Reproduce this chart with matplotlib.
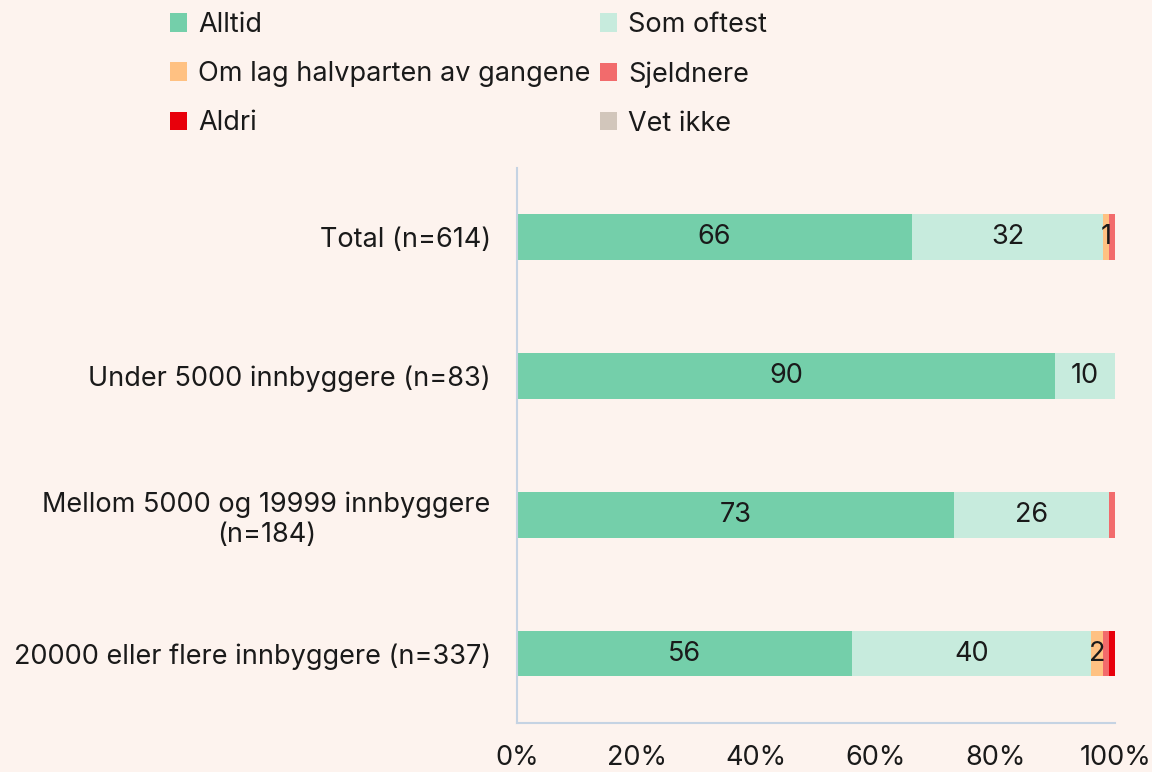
import matplotlib
matplotlib.use("Agg")
import matplotlib.pyplot as plt
from matplotlib.patches import Patch
import numpy as np

plt.rcParams["font.family"] = ["Inter", "DejaVu Sans"]

categories = [
    "Total (n=614)",
    "Under 5000 innbyggere (n=83)",
    "Mellom 5000 og 19999 innbyggere\n(n=184)",
    "20000 eller flere innbyggere (n=337)",
]
series = ["Alltid", "Som oftest", "Om lag halvparten av gangene",
          "Sjeldnere", "Aldri", "Vet ikke"]
alltid = [66, 90, 73, 56]
som_oftest = [32, 10, 26, 40]
om_lag = [1, 0, 0, 2]
sjeldnere = [1, 0, 1, 1]
aldri = [0, 0, 0, 1]
vet_ikke = [0, 0, 0, 0]
colors = ["#74CFAA", "#C7EBDD", "#FFC182", "#F26B6C", "#E8000B", "#D2C6BB"]
labelled = [True, True, True, False, False, False]

BG = "#FDF3EE"
FS = 19.5
fig = plt.figure(figsize=(11.52, 7.72), dpi=100, facecolor=BG)
ax = fig.add_axes([0.4488, 0.0635, 0.5192, 0.7189], facecolor=BG)

values = [alltid, som_oftest, om_lag, sjeldnere, aldri, vet_ikke]
y = np.arange(len(categories))
left = np.zeros(len(categories))
for name, vals, col, lab in zip(series, values, colors, labelled):
    vals = np.array(vals, dtype=float)
    ax.barh(y, vals, left=left, height=0.33, color=col, label=name)
    if lab:
        for yi, (l, v) in enumerate(zip(left, vals)):
            if v > 0:
                ax.text(l + v / 2, yi, f"{v:.0f}", ha="center", va="center",
                        fontsize=FS, color="#1a1a1a")
    left += vals

ax.set_xlim(0, 100)
ax.set_ylim(3.5, -0.5)
ax.set_xticks(range(0, 101, 20))
ax.set_xticklabels([f"{t}%" for t in range(0, 101, 20)])
ax.set_yticks(y)
ax.set_yticklabels(categories, multialignment="center")
ax.tick_params(axis="both", length=0, labelsize=FS, colors="#1a1a1a")
ax.tick_params(axis="x", pad=16)
ax.tick_params(axis="y", pad=19)
for s in ["top", "right"]:
    ax.spines[s].set_visible(False)
for s in ["left", "bottom"]:
    ax.spines[s].set_color("#C5D3E3")
    ax.spines[s].set_linewidth(1.5)

# legend: column-major order so rows read Alltid/Som oftest, ...
order = [0, 2, 4, 1, 3, 5]
handles = [Patch(facecolor=colors[i], label=series[i]) for i in order]
fig.legend(handles=handles, ncol=2, loc="upper left",
           bbox_to_anchor=(0.126, 1.016), frameon=False, fontsize=FS,
           handlelength=0.65, handleheight=0.65, handletextpad=0.4,
           columnspacing=0.35, labelspacing=0.85, labelcolor="#1a1a1a")

fig.savefig("out.png", dpi=100, facecolor=BG)
